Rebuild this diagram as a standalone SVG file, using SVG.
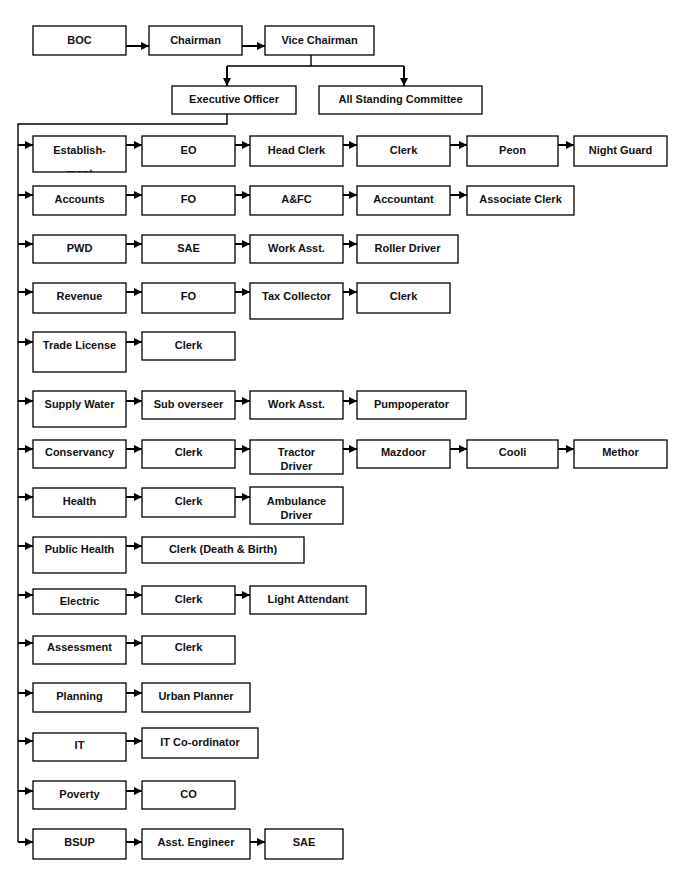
<svg xmlns="http://www.w3.org/2000/svg" width="686" height="880" viewBox="0 0 686 880">
<style>
rect.b{fill:#fff;stroke:#000;stroke-width:1.3}
text{font-family:"Liberation Sans",Arial,sans-serif;font-weight:bold;font-size:11px;fill:#111;text-anchor:middle}
.c line,.c path{stroke:#000;fill:none}
.a{stroke-width:2;marker-end:url(#ah)}
.t{stroke-width:1.4}
</style>
<defs>
<marker id="ah" markerUnits="userSpaceOnUse" markerWidth="9" markerHeight="10" refX="8" refY="5" orient="auto">
<path d="M0,1 L8,5 L0,9 Z" fill="#000"/>
</marker>
<clipPath id="clipEst"><rect x="33" y="136" width="93" height="36"/></clipPath>
</defs>
<rect width="686" height="880" fill="#fff"/>

<g class="c" id="connectors">
<line class="a" x1="126" y1="46" x2="149" y2="46"/>
<line class="a" x1="242" y1="46" x2="265" y2="46"/>
<path class="t" d="M311,55 V66 M227,66 H404"/>
<line class="a" x1="227" y1="66" x2="227" y2="86"/>
<line class="a" x1="404" y1="66" x2="404" y2="86"/>
<path class="t" d="M227,114 V124 H18 V842"/>
<line class="a" x1="18" y1="145" x2="33" y2="145"/>
<line class="a" x1="126" y1="145" x2="142" y2="145"/>
<line class="a" x1="235" y1="145" x2="250" y2="145"/>
<line class="a" x1="343" y1="145" x2="357" y2="145"/>
<line class="a" x1="450" y1="145" x2="467" y2="145"/>
<line class="a" x1="558" y1="145" x2="574" y2="145"/>
<line class="a" x1="18" y1="195" x2="33" y2="195"/>
<line class="a" x1="126" y1="195" x2="142" y2="195"/>
<line class="a" x1="235" y1="195" x2="250" y2="195"/>
<line class="a" x1="343" y1="195" x2="357" y2="195"/>
<line class="a" x1="450" y1="195" x2="467" y2="195"/>
<line class="a" x1="18" y1="244" x2="33" y2="244"/>
<line class="a" x1="126" y1="244" x2="142" y2="244"/>
<line class="a" x1="235" y1="244" x2="250" y2="244"/>
<line class="a" x1="343" y1="244" x2="357" y2="244"/>
<line class="a" x1="18" y1="292" x2="33" y2="292"/>
<line class="a" x1="126" y1="292" x2="142" y2="292"/>
<line class="a" x1="235" y1="292" x2="250" y2="292"/>
<line class="a" x1="343" y1="292" x2="357" y2="292"/>
<line class="a" x1="18" y1="342" x2="33" y2="342"/>
<line class="a" x1="126" y1="342" x2="142" y2="342"/>
<line class="a" x1="18" y1="401" x2="33" y2="401"/>
<line class="a" x1="126" y1="401" x2="142" y2="401"/>
<line class="a" x1="235" y1="401" x2="250" y2="401"/>
<line class="a" x1="343" y1="401" x2="357" y2="401"/>
<line class="a" x1="18" y1="449" x2="33" y2="449"/>
<line class="a" x1="126" y1="449" x2="142" y2="449"/>
<line class="a" x1="235" y1="449" x2="250" y2="449"/>
<line class="a" x1="343" y1="449" x2="357" y2="449"/>
<line class="a" x1="450" y1="449" x2="467" y2="449"/>
<line class="a" x1="558" y1="449" x2="574" y2="449"/>
<line class="a" x1="18" y1="497" x2="33" y2="497"/>
<line class="a" x1="126" y1="497" x2="142" y2="497"/>
<line class="a" x1="235" y1="497" x2="250" y2="497"/>
<line class="a" x1="18" y1="546" x2="33" y2="546"/>
<line class="a" x1="126" y1="546" x2="142" y2="546"/>
<line class="a" x1="18" y1="595" x2="33" y2="595"/>
<line class="a" x1="126" y1="595" x2="142" y2="595"/>
<line class="a" x1="235" y1="595" x2="250" y2="595"/>
<line class="a" x1="18" y1="643" x2="33" y2="643"/>
<line class="a" x1="126" y1="643" x2="142" y2="643"/>
<line class="a" x1="18" y1="693" x2="33" y2="693"/>
<line class="a" x1="126" y1="693" x2="142" y2="693"/>
<line class="a" x1="18" y1="741" x2="33" y2="741"/>
<line class="a" x1="126" y1="741" x2="142" y2="741"/>
<line class="a" x1="18" y1="791" x2="33" y2="791"/>
<line class="a" x1="126" y1="791" x2="142" y2="791"/>
<line class="a" x1="18" y1="842" x2="33" y2="842"/>
<line class="a" x1="126" y1="842" x2="142" y2="842"/>
<line class="a" x1="250" y1="842" x2="265" y2="842"/>
</g>

<g id="n-boc"><rect class="b" x="33" y="26" width="93" height="29"/><text x="79.5" y="44">BOC</text></g>
<g id="n-chairman"><rect class="b" x="149" y="26" width="93" height="29"/><text x="195.5" y="44">Chairman</text></g>
<g id="n-vice"><rect class="b" x="265" y="26" width="109" height="29"/><text x="319.5" y="44">Vice Chairman</text></g>
<g id="n-eo"><rect class="b" x="172" y="86" width="124" height="28"/><text x="234" y="103">Executive Officer</text></g>
<g id="n-asc"><rect class="b" x="319" y="86" width="163" height="28"/><text x="400.5" y="103">All Standing Committee</text></g>

<g id="r1-est"><rect class="b" x="33" y="136" width="93" height="36"/><g clip-path="url(#clipEst)"><text x="79.5" y="154">Establish-</text><text x="79.5" y="177">ment</text></g></g>
<g id="r1-eo"><rect class="b" x="142" y="136" width="93" height="30"/><text x="188.5" y="154">EO</text></g>
<g id="r1-head"><rect class="b" x="250" y="136" width="93" height="30"/><text x="296.5" y="154">Head Clerk</text></g>
<g id="r1-clerk"><rect class="b" x="357" y="136" width="93" height="30"/><text x="403.5" y="154">Clerk</text></g>
<g id="r1-peon"><rect class="b" x="467" y="136" width="91" height="30"/><text x="512.5" y="154">Peon</text></g>
<g id="r1-night"><rect class="b" x="574" y="136" width="93" height="30"/><text x="620.5" y="154">Night Guard</text></g>

<g id="r2-acc"><rect class="b" x="33" y="186" width="93" height="29"/><text x="79.5" y="203">Accounts</text></g>
<g id="r2-fo"><rect class="b" x="142" y="186" width="93" height="29"/><text x="188.5" y="203">FO</text></g>
<g id="r2-afc"><rect class="b" x="250" y="186" width="93" height="29"/><text x="296.5" y="203">A&amp;FC</text></g>
<g id="r2-accountant"><rect class="b" x="357" y="186" width="93" height="29"/><text x="403.5" y="203">Accountant</text></g>
<g id="r2-assoc"><rect class="b" x="467" y="186" width="107" height="29"/><text x="520.5" y="203">Associate Clerk</text></g>

<g id="r3-pwd"><rect class="b" x="33" y="235" width="93" height="28"/><text x="79.5" y="252">PWD</text></g>
<g id="r3-sae"><rect class="b" x="142" y="235" width="93" height="28"/><text x="188.5" y="252">SAE</text></g>
<g id="r3-work"><rect class="b" x="250" y="235" width="93" height="28"/><text x="296.5" y="252">Work Asst.</text></g>
<g id="r3-roller"><rect class="b" x="357" y="235" width="101" height="28"/><text x="407.5" y="252">Roller Driver</text></g>

<g id="r4-rev"><rect class="b" x="33" y="283" width="93" height="30"/><text x="79.5" y="300">Revenue</text></g>
<g id="r4-fo"><rect class="b" x="142" y="283" width="93" height="30"/><text x="188.5" y="300">FO</text></g>
<g id="r4-tax"><rect class="b" x="250" y="283" width="93" height="36"/><text x="296.5" y="300">Tax Collector</text></g>
<g id="r4-clerk"><rect class="b" x="357" y="283" width="93" height="30"/><text x="403.5" y="300">Clerk</text></g>

<g id="r5-trade"><rect class="b" x="33" y="332" width="93" height="40"/><text x="79.5" y="349">Trade License</text></g>
<g id="r5-clerk"><rect class="b" x="142" y="332" width="93" height="28"/><text x="188.5" y="349">Clerk</text></g>

<g id="r6-supply"><rect class="b" x="33" y="391" width="93" height="36"/><text x="79.5" y="408">Supply Water</text></g>
<g id="r6-sub"><rect class="b" x="142" y="391" width="93" height="28"/><text x="188.5" y="408">Sub overseer</text></g>
<g id="r6-work"><rect class="b" x="250" y="391" width="93" height="28"/><text x="296.5" y="408">Work Asst.</text></g>
<g id="r6-pump"><rect class="b" x="357" y="391" width="109" height="28"/><text x="411.5" y="408">Pumpoperator</text></g>

<g id="r7-cons"><rect class="b" x="33" y="440" width="93" height="28"/><text x="79.5" y="456">Conservancy</text></g>
<g id="r7-clerk"><rect class="b" x="142" y="440" width="93" height="28"/><text x="188.5" y="456">Clerk</text></g>
<g id="r7-tractor"><rect class="b" x="250" y="440" width="93" height="34"/><text x="296.5" y="456">Tractor</text><text x="296.5" y="470">Driver</text></g>
<g id="r7-mazdoor"><rect class="b" x="357" y="440" width="93" height="28"/><text x="403.5" y="456">Mazdoor</text></g>
<g id="r7-cooli"><rect class="b" x="467" y="440" width="91" height="28"/><text x="512.5" y="456">Cooli</text></g>
<g id="r7-methor"><rect class="b" x="574" y="440" width="93" height="28"/><text x="620.5" y="456">Methor</text></g>

<g id="r8-health"><rect class="b" x="33" y="488" width="93" height="29"/><text x="79.5" y="505">Health</text></g>
<g id="r8-clerk"><rect class="b" x="142" y="488" width="93" height="29"/><text x="188.5" y="505">Clerk</text></g>
<g id="r8-amb"><rect class="b" x="250" y="487" width="93" height="37"/><text x="296.5" y="505">Ambulance</text><text x="296.5" y="519">Driver</text></g>

<g id="r9-ph"><rect class="b" x="33" y="537" width="93" height="36"/><text x="79.5" y="553">Public Health</text></g>
<g id="r9-clerk"><rect class="b" x="142" y="537" width="162" height="26"/><text x="223" y="553">Clerk (Death &amp; Birth)</text></g>

<g id="r10-elec"><rect class="b" x="33" y="589" width="93" height="25"/><text x="79.5" y="605">Electric</text></g>
<g id="r10-clerk"><rect class="b" x="142" y="586" width="93" height="28"/><text x="188.5" y="603">Clerk</text></g>
<g id="r10-light"><rect class="b" x="250" y="586" width="116" height="28"/><text x="308" y="603">Light Attendant</text></g>

<g id="r11-assess"><rect class="b" x="33" y="636" width="93" height="28"/><text x="79.5" y="651">Assessment</text></g>
<g id="r11-clerk"><rect class="b" x="142" y="636" width="93" height="28"/><text x="188.5" y="651">Clerk</text></g>

<g id="r12-plan"><rect class="b" x="33" y="683" width="93" height="29"/><text x="79.5" y="700">Planning</text></g>
<g id="r12-urban"><rect class="b" x="142" y="683" width="108" height="29"/><text x="196" y="700">Urban Planner</text></g>

<g id="r13-it"><rect class="b" x="33" y="733" width="93" height="28"/><text x="79.5" y="749">IT</text></g>
<g id="r13-itc"><rect class="b" x="142" y="728" width="116" height="30"/><text x="200" y="746">IT Co-ordinator</text></g>

<g id="r14-pov"><rect class="b" x="33" y="781" width="93" height="28"/><text x="79.5" y="798">Poverty</text></g>
<g id="r14-co"><rect class="b" x="142" y="781" width="93" height="28"/><text x="188.5" y="798">CO</text></g>

<g id="r15-bsup"><rect class="b" x="33" y="829" width="93" height="30"/><text x="79.5" y="846">BSUP</text></g>
<g id="r15-ae"><rect class="b" x="142" y="829" width="108" height="30"/><text x="196" y="846">Asst. Engineer</text></g>
<g id="r15-sae"><rect class="b" x="265" y="829" width="78" height="30"/><text x="304" y="846">SAE</text></g>
</svg>
